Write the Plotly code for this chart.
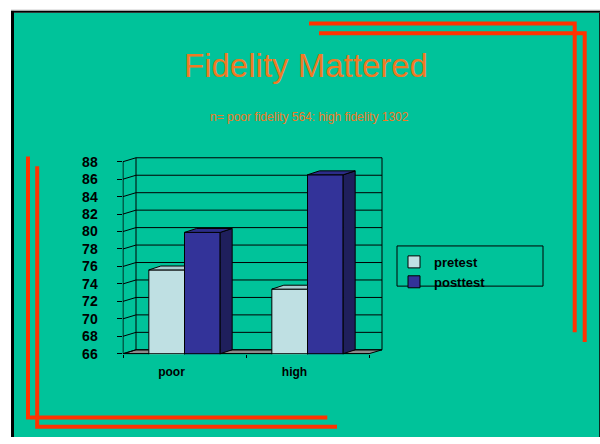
import plotly.graph_objects as go

# ---------------- data ----------------
categories = ["poor", "high"]
series_names = ["pretest", "posttest"]
pretest = [75.6, 73.4]
posttest = [79.9, 86.5]
y_ticks = [66, 68, 70, 72, 74, 76, 78, 80, 82, 84, 86, 88]
title_text = "Fidelity Mattered"
subtitle_text = "n= poor fidelity 564: high fidelity 1302"

# ---------------- styles / geometry ----------------
W, H = 600, 444
TEAL = "#00C39A"
RED = "#FF3300"
ORANGE = "#F07A24"
FRONT = ["#BFE0E3", "#333399"]
TOP = ["#A9CCD0", "#2C2C88"]
SIDE = ["#8FB3B7", "#1F1F5C"]
FLOOR = "#8C8C8C"
FONT = "Liberation Sans"


def px(x):
    return x / W


def py(y):
    return 1 - y / H


PX_L, PX_R = 123, 369          # front plane, pixels
PY_MIN, PY_MAX = 359, 163
Y_MIN, Y_MAX = y_ticks[0], y_ticks[-1]
kx = (PX_R - PX_L) / len(categories)
ky = (PY_MIN - PY_MAX) / (Y_MAX - Y_MIN)
X_LO, X_HI = -0.5, len(categories) - 0.5
DX, DY = 13 / kx, 4 / ky       # wall depth
BDX, BDY = 12 / kx, 4 / ky     # bar depth
BW = 0.29

xr = [X_LO - 0.5 / kx, X_HI + DX + 2 / kx]
yr = [Y_MIN - 0.5 / ky, Y_MAX + DY + 2 / ky]
dom_x = [px(PX_L + (xr[0] - X_LO) * kx), px(PX_L + (xr[1] - X_LO) * kx)]
dom_y = [py(PY_MIN - (yr[0] - Y_MIN) * ky), py(PY_MIN - (yr[1] - Y_MIN) * ky)]

fig = go.Figure()

series = [pretest, posttest]
offsets = [-BW, 0.0]
xs = list(range(len(categories)))

# front faces (real bars)
for s, (name, vals) in enumerate(zip(series_names, series)):
    fig.add_trace(go.Bar(
        x=xs, y=vals, name=name, width=BW, offset=offsets[s],
        marker=dict(color=FRONT[s], line=dict(color="black", width=1)),
        showlegend=True,
    ))

# 3D top / side faces computed from the same values
for c in xs:
    for s, vals in enumerate(series):
        v = vals[c]
        x0 = c + offsets[s]
        x1 = x0 + BW
        hidden = s + 1 < len(series) and series[s + 1][c] >= v + BDY
        if hidden:
            tx = [x0, x1, x1, x0 + BDX, x0]
            ty = [v, v, v + BDY, v + BDY, v]
        else:
            tx = [x0, x1, x1 + BDX, x0 + BDX, x0]
            ty = [v, v, v + BDY, v + BDY, v]
            fig.add_trace(go.Scatter(
                x=[x1, x1 + BDX, x1 + BDX, x1, x1],
                y=[Y_MIN, Y_MIN + BDY, v + BDY, v, Y_MIN],
                mode="lines", fill="toself", fillcolor=SIDE[s],
                line=dict(color="black", width=1), showlegend=False,
                hoverinfo="skip"))
        fig.add_trace(go.Scatter(
            x=tx, y=ty, mode="lines", fill="toself", fillcolor=TOP[s],
            line=dict(color="black", width=1), showlegend=False,
            hoverinfo="skip"))

shapes = []
# slide background & borders
shapes.append(dict(type="rect", xref="paper", yref="paper", layer="below",
                   x0=px(14), x1=px(600), y0=py(444), y1=py(11),
                   fillcolor=TEAL, line=dict(width=0)))
shapes.append(dict(type="rect", xref="paper", yref="paper", layer="below",
                   x0=px(11), x1=px(14), y0=py(444), y1=py(9),
                   fillcolor="black", line=dict(width=0)))
shapes.append(dict(type="rect", xref="paper", yref="paper", layer="below",
                   x0=px(11), x1=px(600), y0=py(11), y1=py(9),
                   fillcolor="black", line=dict(width=0)))
shapes.append(dict(type="rect", xref="paper", yref="paper", layer="below",
                   x0=px(11), x1=px(600), y0=py(9), y1=py(8),
                   fillcolor="#A0A0A0", line=dict(width=0)))
shapes.append(dict(type="rect", xref="paper", yref="paper", layer="below",
                   x0=px(599), x1=px(600), y0=py(444), y1=py(11),
                   fillcolor="#0A2A22", line=dict(width=0)))

# floor
shapes.append(dict(type="path", xref="x", yref="y", layer="below",
                   path=f"M {X_LO},{Y_MIN} L {X_HI},{Y_MIN} L {X_HI + DX},{Y_MIN + DY} "
                        f"L {X_LO + DX},{Y_MIN + DY} Z",
                   fillcolor=FLOOR, line=dict(color="black", width=1)))
# back wall gridlines & side wall
for v in y_ticks:
    shapes.append(dict(type="line", xref="x", yref="y", layer="below",
                       x0=X_LO + DX, x1=X_HI + DX, y0=v + DY, y1=v + DY,
                       line=dict(color="black", width=1)))
    shapes.append(dict(type="line", xref="x", yref="y", layer="below",
                       x0=X_LO, x1=X_LO + DX, y0=v, y1=v + DY,
                       line=dict(color="black", width=1)))
for xv in [X_LO + DX, X_HI + DX]:
    shapes.append(dict(type="line", xref="x", yref="y", layer="below",
                       x0=xv, x1=xv, y0=Y_MIN + DY, y1=Y_MAX + DY,
                       line=dict(color="black", width=1)))
shapes.append(dict(type="line", xref="x", yref="y", layer="below",
                   x0=X_LO, x1=X_LO, y0=Y_MIN, y1=Y_MAX,
                   line=dict(color="black", width=1)))
shapes.append(dict(type="line", xref="x", yref="y", layer="above",
                   x0=X_LO, x1=X_HI, y0=Y_MIN, y1=Y_MIN,
                   line=dict(color="black", width=1)))

# legend box
shapes.append(dict(type="rect", xref="paper", yref="paper", layer="above",
                   x0=px(397), x1=px(543), y0=py(290), y1=py(249),
                   line=dict(color="black", width=1)))

# decorative red frame lines
red_paths = [
    [(309, 22), (574.7, 22), (574.7, 337)],
    [(319, 32), (584.7, 32), (584.7, 347)],
    [(28, 157.7), (28, 424), (327.3, 424)],
    [(37.2, 167.7), (37.2, 433.5), (337, 433.5)],
]
for pts in red_paths:
    p = "M " + " L ".join(f"{px(a)},{py(b)}" for a, b in pts)
    shapes.append(dict(type="path", xref="paper", yref="paper", layer="above",
                       path=p, line=dict(color=RED, width=4)))

fig.update_layout(
    width=W, height=H,
    margin=dict(l=0, r=0, t=0, b=0),
    paper_bgcolor="white",
    plot_bgcolor="rgba(0,0,0,0)",
    font=dict(family=FONT, color="black"),
    barmode="overlay",
    shapes=shapes,
    title=dict(text=title_text, x=px(306), y=py(65), xref="paper", yref="container",
               xanchor="center", yanchor="middle",
               font=dict(family=FONT, size=33, color=ORANGE)),
    annotations=[dict(text=subtitle_text, x=px(309), y=py(117), xref="paper",
                      yref="paper", xanchor="center", yanchor="middle",
                      showarrow=False, font=dict(family=FONT, size=12, color=ORANGE))],
    legend=dict(x=px(394), y=py(250), xanchor="left", yanchor="top",
                bgcolor="rgba(0,0,0,0)", borderwidth=0,
                font=dict(family=FONT, size=13, color="black", weight="bold")),
    xaxis=dict(domain=dom_x, range=xr, tickmode="array", tickvals=xs,
               ticktext=categories, ticks="", showline=False, showgrid=False,
               zeroline=False, fixedrange=True, ticklabelstandoff=9,
               ticklabelshift=-13,
               tickfont=dict(family=FONT, size=12, color="black", weight="bold"),
               minor=dict(tickmode="array", tickvals=[X_LO + i for i in range(len(categories) + 1)],
                          ticks="outside", ticklen=3, tickcolor="black", showgrid=False)),
    yaxis=dict(domain=dom_y, range=yr, tickmode="array", tickvals=y_ticks,
               ticks="outside", ticklen=5, tickcolor="black", showline=False,
               showgrid=False, zeroline=False, fixedrange=True, ticklabelstandoff=16,
               tickfont=dict(family=FONT, size=14, color="black", weight="bold")),
)

fig.write_html("out.html")
